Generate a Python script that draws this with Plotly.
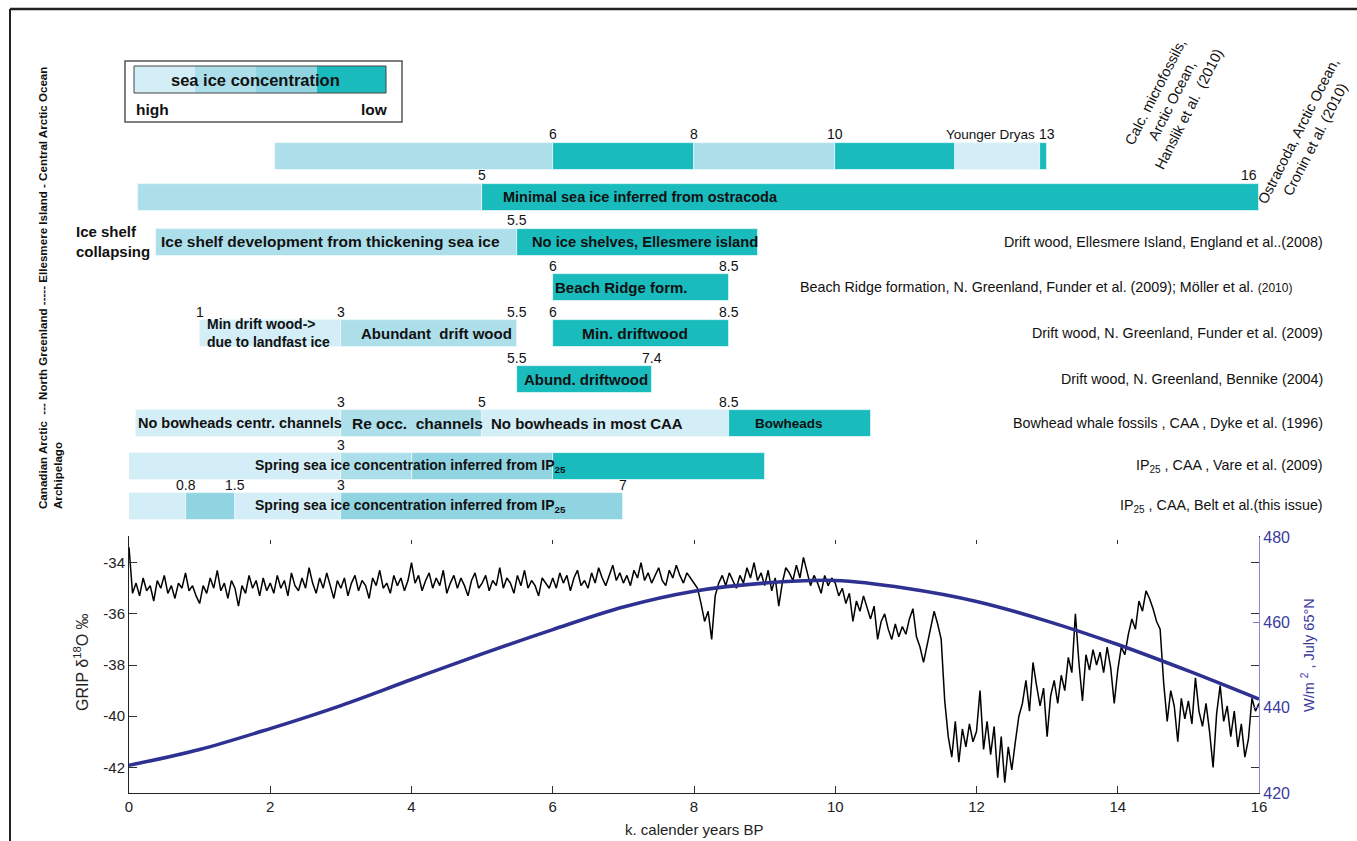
import plotly.graph_objects as go

# ---------------- GRIP delta-18O (per mil), 0-16 ka BP in 50-yr steps ----------------
grip_step_ka = 0.05
grip_d18o = [
    # 0.00 - 0.95
    -33.4, -35.2, -34.8, -35.3, -34.6, -35.1, -34.9, -35.5, -34.7, -35.0, -34.5, -35.2, -34.9, -35.4, -34.8, -35.0, -34.4, -35.1, -34.9, -35.3,
    # 1.00 - 1.95
    -35.6, -34.9, -35.2, -34.6, -35.0, -34.3, -35.1, -34.8, -35.4, -34.7, -35.0, -35.7, -34.9, -35.2, -34.5, -35.0, -34.7, -35.3, -34.6, -35.1,
    # 2.00 - 2.95
    -34.8, -35.2, -34.5, -35.0, -34.7, -35.3, -34.4, -34.9, -35.1, -34.6, -35.0, -34.2, -34.8, -35.2, -34.6, -35.0, -34.4, -34.9, -35.4, -34.7,
    # 3.00 - 3.95
    -35.0, -34.6, -35.3, -34.8, -34.5, -35.1, -34.7, -34.9, -35.4, -34.6, -34.9, -34.3, -35.0, -34.8, -35.2, -34.5, -34.9, -34.6, -35.1, -34.7,
    # 4.00 - 4.95
    -34.0, -34.8, -34.5, -35.1, -34.7, -34.4, -35.0, -34.6, -34.9, -34.3, -35.2, -34.8, -34.5, -35.0, -34.6, -34.9, -35.3, -34.7, -34.4, -35.0,
    # 5.00 - 5.95
    -34.8, -34.5, -35.1, -34.7, -34.9, -34.2, -35.0, -34.6, -34.8, -35.2, -34.5, -34.9, -34.3, -35.0, -34.7, -34.9, -35.3, -34.6, -34.8, -35.0,
    # 6.00 - 6.95
    -34.6, -35.0, -34.4, -34.8, -34.5, -35.1, -34.6, -34.3, -34.9, -34.7, -35.0, -34.4, -34.8, -34.2, -34.6, -34.9, -34.5, -34.1, -34.7, -34.4,
    # 7.00 - 7.95
    -34.8, -34.5, -34.9, -34.3, -34.6, -34.0, -34.7, -34.4, -34.8, -34.5, -34.2, -34.7, -34.9, -34.3, -34.6, -34.1, -34.5, -34.8, -34.4, -34.6,
    # 8.00 - 8.95
    -34.8, -35.0, -35.6, -36.3, -35.9, -37.0, -35.3, -34.8, -34.5, -34.9, -34.4, -34.7, -35.0, -34.5, -34.8, -34.2, -34.6, -34.0, -34.7, -34.4,
    # 9.00 - 9.95
    -34.9, -34.3, -35.1, -34.6, -35.7, -34.8, -34.2, -34.4, -34.7, -34.1, -34.6, -33.8, -34.4, -34.9, -34.5, -34.8, -35.2, -34.5, -34.9, -34.6,
    # 10.00 - 10.95
    -34.8, -35.3, -35.0, -35.6, -35.2, -36.3, -35.5, -35.9, -35.3, -35.8, -36.2, -35.7, -37.0, -36.3, -36.0, -36.6, -37.0, -36.4, -36.9, -36.5,
    # 11.00 - 11.95
    -36.8, -36.2, -35.8, -36.9, -37.3, -37.9, -37.2, -36.6, -35.9, -36.4, -37.0, -39.4, -40.8, -41.6, -40.2, -41.8, -40.5, -41.2, -40.3, -41.0,
    # 12.00 - 12.95
    -40.6, -39.0, -41.3, -40.2, -41.5, -40.4, -42.4, -40.8, -42.6, -41.2, -42.1, -41.0, -40.0, -39.5, -38.6, -39.8, -37.9, -38.8, -39.6, -38.9,
    # 13.00 - 13.95
    -40.8, -39.2, -38.6, -39.5, -38.4, -39.0, -37.7, -38.3, -36.0, -37.9, -39.4, -37.6, -38.2, -37.4, -38.0, -37.5, -38.3, -37.3, -38.1, -39.5,
    # 14.00 - 14.95
    -38.2, -37.3, -37.6, -36.8, -36.2, -36.6, -35.5, -35.9, -35.1, -35.4, -35.8, -36.3, -36.6, -38.7, -40.2, -39.0, -39.6, -41.0, -39.3, -40.1,
    # 15.00 - 15.95
    -39.4, -40.3, -38.5, -39.8, -40.4, -39.5, -40.6, -42.0, -39.9, -38.8, -40.2, -39.6, -40.8, -39.8, -41.2, -40.3, -41.6, -40.9, -39.3, -39.8,
    # 16.00
    -39.5,
]
grip_age = [round(i * grip_step_ka, 2) for i in range(len(grip_d18o))]
grip_ticks = [-42, -40, -38, -36, -34]

# ---------------- July insolation at 65 N (W/m2) ----------------
ins_age = [0, 1, 2, 3, 4, 5, 6, 7, 8, 9, 10, 11, 12, 13, 14, 15, 16]
ins_wm2 = [426.5, 430.2, 435.1, 440.5, 446.6, 452.6, 458.3, 463.6, 467.3, 469.2,
           469.8, 468.0, 464.9, 460.3, 454.8, 448.6, 442.0]
ins_ticks = [420, 440, 460, 480]

# ---------------- sea-ice proxy bars ----------------
# sea ice concentration classes: 0 = high ... 3 = low
ice_class_colors = ["#d3eef6", "#addfeb", "#8fd4e0", "#19bbbd"]

seg_row = [0, 0, 0, 0, 0, 0,
           1, 1,
           2, 2,
           3,
           4, 4, 4,
           5,
           6, 6, 6, 6,
           7, 7, 7, 7,
           8, 8, 8, 8]
seg_start = [2.07, 6, 8, 10, 11.7, 12.9,
             0.13, 5,
             0.38, 5.5,
             6,
             1, 3, 6,
             5.5,
             0.1, 3, 5, 8.5,
             0, 3, 4, 6,
             0, 0.8, 1.5, 3]
seg_end = [6, 8, 10, 11.7, 12.9, 13,
           5, 16,
           5.5, 8.9,
           8.5,
           3, 5.5, 8.5,
           7.4,
           3, 5, 8.5, 10.5,
           3, 4, 6, 9,
           0.8, 1.5, 3, 7]
seg_class = [1, 3, 1, 3, 0, 3,
             1, 3,
             1, 3,
             3,
             0, 1, 3,
             3,
             0, 1, 0, 3,
             0, 1, 2, 3,
             0, 2, 0, 2]

# labelled age boundaries above the bars (ka BP)
tick_row = [0, 0, 0, 0, 1, 1, 2, 3, 3, 4, 4, 4, 4, 4, 5, 5, 6, 6, 6, 7, 8, 8, 8, 8]
tick_age = [6, 8, 10, 13, 5, 16, 5.5, 6, 8.5, 1, 3, 5.5, 6, 8.5, 5.5, 7.4, 3, 5, 8.5, 3, 0.8, 1.5, 3, 7]
AGE_MAX = 16

# bold descriptions inside the bars
desc_text = [
    "Minimal sea ice inferred from ostracoda",
    "Ice shelf development from thickening sea ice",
    "No ice shelves, Ellesmere island",
    "Beach Ridge form.",
    "Min drift wood-><br>due to landfast ice",
    "Abundant  drift wood",
    "Min. driftwood",
    "Abund. driftwood",
    "No bowheads centr. channels",
    "Re occ.  channels",
    "No bowheads in most CAA",
    "Bowheads",
    "Spring sea ice concentration inferred from IP<sub>25</sub>",
    "Spring sea ice concentration inferred from IP<sub>25</sub>",
]
desc_row = [1, 2, 2, 3, 4, 4, 4, 5, 6, 6, 6, 6, 7, 8]
desc_x = [7.24, 2.86, 7.3, 6.98, 1.08, 4.35, 7.17, 6.47, 1.57, 4.08, 6.48, 9.35, 3.98, 3.98]
desc_anchor = ["center", "center", "center", "center", "left", "center", "center",
               "center", "center", "center", "center", "center", "center", "center"]
desc_size = [14.5, 15.5, 14.7, 15, 14, 15, 15.5, 15, 14.5, 15.5, 15, 13.5, 14, 14]

# data sources, one per row
source_row = [2, 3, 4, 5, 6, 7, 8]
source_text = [
    "Drift wood, Ellesmere Island, England et al..(2008)",
    "Beach Ridge formation, N. Greenland, Funder et al. (2009); Möller et al. <span style='font-size:12px'>(2010)</span>",
    "Drift wood, N. Greenland, Funder et al. (2009)",
    "Drift wood, N. Greenland, Bennike (2004)",
    "Bowhead whale fossils , CAA , Dyke et al. (1996)",
    "IP<sub>25</sub> , CAA , Vare et al. (2009)",
    "IP<sub>25</sub> , CAA, Belt et al.(this issue)",
]
source_right_px = [1325, 1294, 1325, 1325, 1325, 1325, 1325]

FONT = "Liberation Sans, Arial, sans-serif"
NARROW = "Liberation Sans Narrow, Arial Narrow, Liberation Sans, sans-serif"
INS_BLUE = "#2e3192"
AXIS_BLUE = "#3b3b9e"

# page geometry (pixels) used to place decorations in paper coordinates
W, H = 1357, 841
ML, MR, MT, MB = 129, 98, 0, 48
PW, PH = W - ML - MR, H - MT - MB
# the rendered page sits 8 px lower and is squeezed to keep the bottom edge fixed
PAGE_TOP = 8
V_SCALE = (H - MB) / (H - MB - PAGE_TOP)

# vertical centre of each proxy row on the page (pixels from top) and bar thickness
row_center_px = [156, 197, 242, 287, 333, 379, 423, 466, 506]
BAR_PX = 27
ROWS_TOP, ROWS_BOTTOM = 120, 540


def px(xp):
    return (xp - ML) / PW


def py(yp):
    yf = (yp - PAGE_TOP) * V_SCALE
    return (H - MB - yf) / PH


fig = go.Figure()

# bars, one trace per ice class
for cls, col in enumerate(ice_class_colors):
    idx = [i for i, c in enumerate(seg_class) if c == cls]
    fig.add_trace(go.Bar(
        orientation="h",
        y=[row_center_px[seg_row[i]] for i in idx],
        base=[seg_start[i] for i in idx],
        x=[seg_end[i] - seg_start[i] for i in idx],
        width=BAR_PX,
        marker=dict(color=col, line=dict(color="#eef9fb", width=0.8)),
        xaxis="x2", yaxis="y2", hoverinfo="skip", showlegend=False,
    ))

# GRIP record
fig.add_trace(go.Scatter(
    x=grip_age, y=grip_d18o, mode="lines",
    line=dict(color="black", width=1.5),
    xaxis="x", yaxis="y", showlegend=False, hoverinfo="skip",
))
# insolation
fig.add_trace(go.Scatter(
    x=ins_age, y=ins_wm2, mode="lines",
    line=dict(color=INS_BLUE, width=3.5, shape="spline"),
    xaxis="x", yaxis="y3", showlegend=False, hoverinfo="skip",
))

ann = []

# boundary ages above bars (the one at the axis end sits just inside it)
for r, a in zip(tick_row, tick_age):
    ann.append(dict(x=a, y=row_center_px[r] - BAR_PX / 2, xref="x2", yref="y2", text=f"{a:g}",
                    showarrow=False, xanchor="right" if a >= AGE_MAX else "center",
                    yanchor="bottom", yshift=-2,
                    font=dict(family=FONT, size=14, color="#111")))
ann.append(dict(x=12.2, y=row_center_px[0] - BAR_PX / 2, xref="x2", yref="y2", text="Younger Dryas",
                showarrow=False, xanchor="center", yanchor="bottom", yshift=-2,
                font=dict(family=FONT, size=13.5, color="#111")))

# descriptions inside the bars
for t, r, xx, anc, fs in zip(desc_text, desc_row, desc_x, desc_anchor, desc_size):
    ann.append(dict(x=xx, y=row_center_px[r], xref="x2", yref="y2", text=f"<b>{t}</b>",
                    showarrow=False, xanchor=anc, yanchor="middle", align="left",
                    font=dict(family=FONT, size=fs, color="#111")))

ann.append(dict(x=px(74), y=row_center_px[2], xref="paper", yref="y2",
                text="<b>Ice shelf<br>collapsing</b>",
                showarrow=False, xanchor="left", yanchor="middle", align="left",
                font=dict(family=FONT, size=15, color="#111")))

# sources on the right
for r, t, xr in zip(source_row, source_text, source_right_px):
    ann.append(dict(x=px(xr), y=row_center_px[r], xref="paper", yref="y2", text=t,
                    showarrow=False, xanchor="right", yanchor="middle",
                    font=dict(family=FONT, size=14.3, color="#111")))

# rotated sources for the Arctic Ocean rows
ann.append(dict(x=px(1172), y=py(101), xref="paper", yref="paper",
                text="Calc. microfossils,<br>Arctic Ocean,<br>Hanslik et al.  (2010)",
                textangle=-63, showarrow=False, xanchor="center", yanchor="middle",
                font=dict(family=FONT, size=14.5, color="#111")))
ann.append(dict(x=px(1307), y=py(136), xref="paper", yref="paper",
                text="Ostracoda, Arctic Ocean,<br>Cronin et al. (2010)",
                textangle=-63, showarrow=False, xanchor="center", yanchor="middle",
                font=dict(family=FONT, size=14.5, color="#111")))

# regional axis on the far left
ann.append(dict(x=px(50), y=py(511), xref="paper", yref="paper",
                text="<b>Canadian Arctic  --- North Greenland ----- Ellesmere Island - Central Arctic Ocean<br>Archipelago</b>",
                textangle=-90, showarrow=False, xanchor="center", yanchor="bottom", align="left",
                font=dict(family=NARROW, size=11.6, color="#111")))

# key for the colour classes
ann.append(dict(x=px(255), y=py(80), xref="paper", yref="paper", text="<b>sea ice concentration</b>",
                showarrow=False, xanchor="center", yanchor="middle",
                font=dict(family=FONT, size=16.5, color="#111")))
ann.append(dict(x=px(134), y=py(110), xref="paper", yref="paper", text="<b>high</b>",
                showarrow=False, xanchor="left", yanchor="middle",
                font=dict(family=FONT, size=15.5, color="#111")))
ann.append(dict(x=px(390), y=py(110), xref="paper", yref="paper", text="<b>low</b>",
                showarrow=False, xanchor="right", yanchor="middle",
                font=dict(family=FONT, size=15.5, color="#111")))

# axis titles of the lower panel
ann.append(dict(x=px(81), y=py(662), xref="paper", yref="paper",
                text="GRIP δ<sup>18</sup>O ‰", textangle=-90, showarrow=False,
                xanchor="center", yanchor="middle",
                font=dict(family=FONT, size=16, color="#222")))
ann.append(dict(x=px(1308), y=py(655), xref="paper", yref="paper",
                text="W/m <sup>2</sup> , July 65°N", textangle=-90, showarrow=False,
                xanchor="center", yanchor="middle",
                font=dict(family=FONT, size=14.5, color=AXIS_BLUE)))
ann.append(dict(x=px(694), y=py(829), xref="paper", yref="paper",
                text="k. calender years BP", showarrow=False,
                xanchor="center", yanchor="middle",
                font=dict(family=FONT, size=15, color="#222")))

shapes = []
# colour key box
shapes.append(dict(type="rect", xref="paper", yref="paper",
                   x0=px(125), x1=px(402), y0=py(122), y1=py(61),
                   line=dict(color="#555", width=1.5), fillcolor="rgba(0,0,0,0)"))
key_edges = [134, 195, 256, 317, 386]
for i, col in enumerate(ice_class_colors):
    shapes.append(dict(type="rect", xref="paper", yref="paper",
                       x0=px(key_edges[i]), x1=px(key_edges[i + 1]), y0=py(93), y1=py(66),
                       line=dict(width=0), fillcolor=col, layer="below"))
shapes.append(dict(type="rect", xref="paper", yref="paper",
                   x0=px(134), x1=px(386), y0=py(93), y1=py(66),
                   line=dict(color="#444", width=1), fillcolor="rgba(0,0,0,0)"))
# page frame (top and left)
shapes.append(dict(type="line", xref="paper", yref="paper",
                   x0=px(10), x1=px(1360), y0=py(9), y1=py(9),
                   line=dict(color="#222", width=2.5)))
shapes.append(dict(type="line", xref="paper", yref="paper",
                   x0=px(10), x1=px(10), y0=py(9), y1=py(845),
                   line=dict(color="#222", width=2)))

tickfont = dict(family=FONT, size=15, color="#222")

fig.update_layout(
    width=W, height=H,
    margin=dict(l=ML, r=MR, t=MT, b=MB),
    paper_bgcolor="white", plot_bgcolor="white",
    barmode="overlay", bargap=0,
    showlegend=False,
    font=dict(family=FONT),
    xaxis=dict(domain=[0, 1], range=[0, AGE_MAX], anchor="y",
               tickvals=list(range(0, AGE_MAX + 1, 2)), ticks="inside", ticklen=7,
               tickcolor="#333", showline=True, linecolor="#222", linewidth=1,
               mirror="ticks", showgrid=False, zeroline=False, tickfont=tickfont),
    yaxis=dict(domain=[0, py(537)], range=[-43, -33], anchor="x",
               tickvals=grip_ticks, ticktext=[str(v) for v in grip_ticks],
               ticks="inside", ticklen=8,
               tickcolor="#333", showline=True, linecolor="#222", linewidth=1,
               mirror="ticks", showgrid=False, zeroline=False, tickfont=tickfont),
    yaxis3=dict(overlaying="y", side="right", anchor="x", range=[420, 480],
                tickvals=ins_ticks, ticks="inside", ticklen=6,
                tickcolor="#7d7dc6", showline=True, linecolor="#8a8ad0", linewidth=1.2,
                showgrid=False, zeroline=False,
                tickfont=dict(family=FONT, size=16, color=AXIS_BLUE)),
    xaxis2=dict(domain=[0, 1], range=[0, AGE_MAX], anchor="y2", visible=False),
    yaxis2=dict(domain=[py(ROWS_BOTTOM), py(ROWS_TOP)], range=[ROWS_BOTTOM, ROWS_TOP],
                anchor="x2", visible=False),
    annotations=ann,
    shapes=shapes,
)

fig.write_html("out.html")
